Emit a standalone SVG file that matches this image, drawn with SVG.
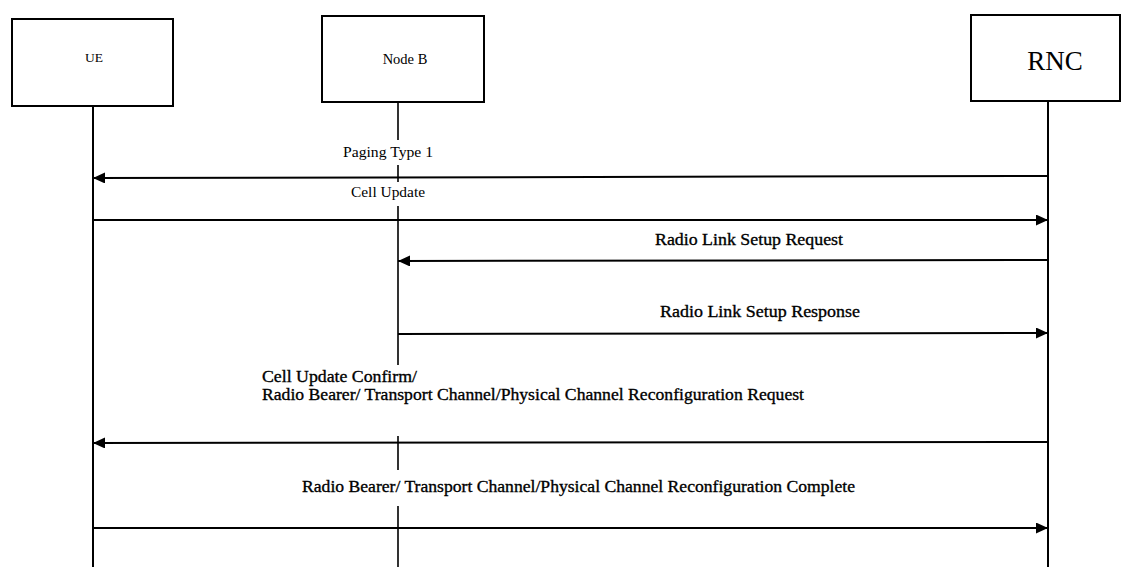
<svg xmlns="http://www.w3.org/2000/svg" width="1124" height="569" viewBox="0 0 1124 569">
<style>
  .box { fill: #fff; stroke: #000; stroke-width: 2; }
  .life { stroke: #000; stroke-width: 2; fill: none; }
  .thin { stroke-width: 1.6; }
  .msg { stroke: #000; stroke-width: 2; fill: none; }
  .lbl { font-family: "Liberation Serif", "Times New Roman", serif; fill: #000; }
  .small { font-size: 15.5px; }
  .big { font-size: 17.5px; stroke: #000; stroke-width: 0.35; }
</style>
<defs>
  <marker id="ah" markerUnits="userSpaceOnUse" markerWidth="12" markerHeight="11" refX="12" refY="5.5" orient="auto">
    <path d="M0,0 L12,5.5 L0,11 Z" fill="#000"/>
  </marker>
</defs>

<g id="node-ue">
  <rect class="box" x="12" y="19" width="161" height="87"/>
  <text class="lbl" x="94" y="62" font-size="13.5" text-anchor="middle">UE</text>
</g>
<g id="node-nodeb">
  <rect class="box" x="322" y="16" width="162" height="86"/>
  <text class="lbl" x="405" y="64" font-size="14.5" text-anchor="middle">Node B</text>
</g>
<g id="node-rnc">
  <rect class="box" x="971" y="15" width="149" height="86"/>
  <text class="lbl" x="1055" y="70" font-size="27" text-anchor="middle">RNC</text>
</g>

<g id="lifelines">
  <line class="life" x1="93" y1="106" x2="93" y2="567"/>
  <path class="life thin" d="M398,102 V140 M398,165 V182 M398,206 V365 M398,436 V470 M398,506 V567"/>
  <line class="life" x1="1048" y1="101" x2="1048" y2="567"/>
</g>

<g id="connectors">
  <line class="msg" x1="1048" y1="176" x2="93" y2="178" marker-end="url(#ah)"/>
  <line class="msg" x1="93" y1="220" x2="1048" y2="220" marker-end="url(#ah)"/>
  <line class="msg" x1="1048" y1="260" x2="398" y2="261" marker-end="url(#ah)"/>
  <line class="msg" x1="398" y1="334" x2="1048" y2="333" marker-end="url(#ah)"/>
  <line class="msg" x1="1048" y1="442" x2="93" y2="443" marker-end="url(#ah)"/>
  <line class="msg" x1="93" y1="528" x2="1048" y2="528" marker-end="url(#ah)"/>
</g>

<g id="labels">
  <text class="lbl small" x="343" y="157" textLength="90" lengthAdjust="spacingAndGlyphs">Paging Type 1</text>
  <text class="lbl small" x="351" y="197" textLength="74" lengthAdjust="spacingAndGlyphs">Cell Update</text>
  <text class="lbl big" x="655" y="245" textLength="188" lengthAdjust="spacingAndGlyphs">Radio Link Setup Request</text>
  <text class="lbl big" x="660" y="317" textLength="200" lengthAdjust="spacingAndGlyphs">Radio Link Setup Response</text>
  <text class="lbl big" x="262" y="382" textLength="155" lengthAdjust="spacingAndGlyphs">Cell Update Confirm/</text>
  <text class="lbl big" x="262" y="400" textLength="542" lengthAdjust="spacingAndGlyphs">Radio Bearer/ Transport Channel/Physical Channel Reconfiguration Request</text>
  <text class="lbl big" x="302" y="492" textLength="553" lengthAdjust="spacingAndGlyphs">Radio Bearer/ Transport Channel/Physical Channel Reconfiguration Complete</text>
</g>
</svg>
